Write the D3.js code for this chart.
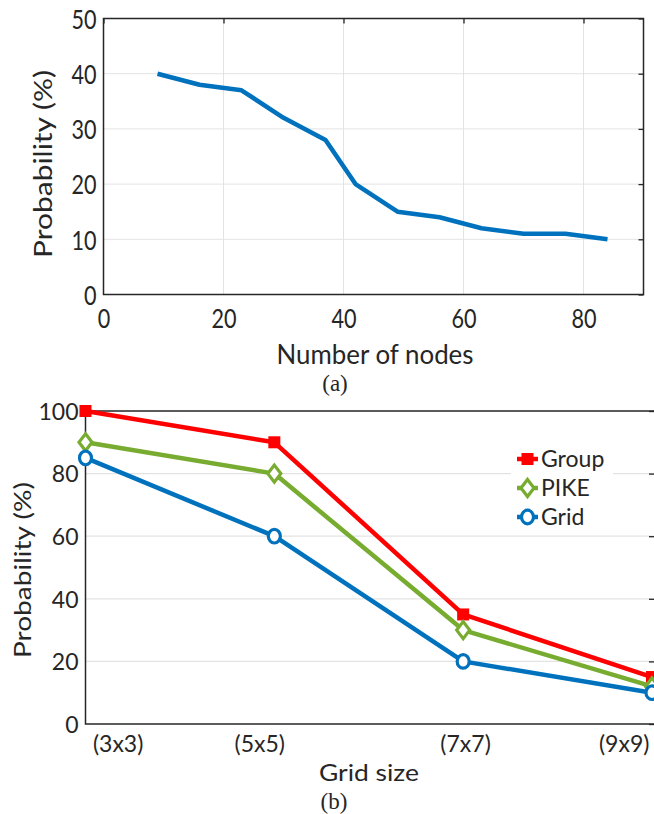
<!DOCTYPE html>
<html>
<head>
<meta charset="utf-8">
<script src="https://cdn.jsdelivr.net/npm/d3@7"></script>
<style>
  html, body { margin: 0; padding: 0; background: #fff; }
  svg { display: block; }
  text { font-family: Lato, "Open Sans", sans-serif; fill: #262626; }
</style>
</head>
<body>
<svg id="chart" width="654" height="814"></svg>
<script>
// ---------- Data: chart (a) ----------
const nodes = [9, 16, 23, 30, 37, 42, 49, 56, 63, 70, 77, 84];
const probA = [40, 38, 37, 32, 28, 20, 15, 14, 12, 11, 11, 10];
const xTicksA = [0, 20, 40, 60, 80];
const yTicksA = [0, 10, 20, 30, 40, 50];

// ---------- Data: chart (b) ----------
const gridSizes = ["(3x3)", "(5x5)", "(7x7)", "(9x9)"];
const gridIndex = [1, 2, 3, 4];
const labelPosB = [1.17, 1.92, 3.01, 3.85];
const groupVals = [100, 90, 35, 15];
const pikeVals = [90, 80, 30, 12];
const gridVals = [85, 60, 20, 10];
const seriesNames = ["Group", "PIKE", "Grid"];
const yTicksB = [0, 20, 40, 60, 80, 100];

const svg = d3.select("#chart");
const axisColor = "#262626";
const gridColor = "#e3e3e3";

// ================= Chart (a) =================
{
  const L = 103.5, R = 643.5, T = 18.5, B = 294.5;
  const x = d3.scaleLinear().domain([0, 90]).range([L, R]);
  const y = d3.scaleLinear().domain([0, 50]).range([B, T]);
  const g = svg.append("g");
  const sx = 0.8;

  // grid
  g.append("g").selectAll("line.v").data(xTicksA.filter(d => d > 0)).join("line")
    .attr("x1", d => x(d)).attr("x2", d => x(d)).attr("y1", T).attr("y2", B)
    .attr("stroke", gridColor).attr("stroke-width", 1);
  g.append("g").selectAll("line.h").data(yTicksA.filter(d => d > 0 && d < 50)).join("line")
    .attr("x1", L).attr("x2", R).attr("y1", d => y(d)).attr("y2", d => y(d))
    .attr("stroke", gridColor).attr("stroke-width", 1);

  // inner ticks top & right
  const topAx = g.append("g").attr("transform", `translate(0,${T})`)
    .call(d3.axisBottom(x).tickValues(xTicksA).tickSize(5).tickFormat(""));
  topAx.select(".domain").remove();
  topAx.selectAll("line").attr("stroke", axisColor).attr("stroke-width", 1.3);
  const rightAx = g.append("g").attr("transform", `translate(${R},0)`)
    .call(d3.axisLeft(y).tickValues(yTicksA).tickSize(5).tickFormat(""));
  rightAx.select(".domain").remove();
  rightAx.selectAll("line").attr("stroke", axisColor).attr("stroke-width", 1.3);

  // labels
  const xl = g.append("g").attr("transform", `translate(0,${B})`)
    .call(d3.axisBottom(x).tickValues(xTicksA).tickSize(0).tickPadding(14));
  xl.select(".domain").remove();
  xl.selectAll("text").attr("font-size", 27).attr("font-family", "Lato").attr("fill", axisColor)
    .attr("transform", `scale(${sx},1)`).attr("x", 0);
  const yl = g.append("g").attr("transform", `translate(${L},0)`)
    .call(d3.axisLeft(y).tickValues(yTicksA).tickSize(0).tickPadding(7));
  yl.select(".domain").remove();
  yl.selectAll("text").attr("font-size", 27).attr("font-family", "Lato").attr("fill", axisColor)
    .attr("dy", "0.36em").attr("transform", `scale(${sx},1)`).attr("x", -7 / sx);

  // box
  g.append("rect").attr("x", L).attr("y", T).attr("width", R - L).attr("height", B - T)
    .attr("fill", "none").attr("stroke", axisColor).attr("stroke-width", 1.5);

  // line
  const line = d3.line().x((d, i) => x(nodes[i])).y(d => y(d));
  g.append("path").datum(probA).attr("d", line)
    .attr("fill", "none").attr("stroke", "#0072BD").attr("stroke-width", 4.5)
    .attr("stroke-linejoin", "round");

  // titles
  g.append("text").attr("x", 375).attr("y", 364).attr("text-anchor", "middle")
    .attr("font-size", 26).attr("textLength", 197).attr("lengthAdjust", "spacingAndGlyphs")
    .text("Number of nodes");
  g.append("text").attr("transform", "translate(52,164) rotate(-90)").attr("text-anchor", "middle")
    .attr("font-size", 25).attr("textLength", 188).attr("lengthAdjust", "spacingAndGlyphs")
    .text("Probability (%)");
  g.append("text").attr("x", 335).attr("y", 391).attr("text-anchor", "middle")
    .style("font-family", "'Liberation Serif', serif").attr("font-size", 23)
    .attr("fill", "#000").text("(a)");
}

// ================= Chart (b) =================
{
  const L = 85.5, R = 655, T = 411, B = 724;
  const x = d3.scaleLinear().domain([1, 4]).range([L, 652]);
  const y = d3.scaleLinear().domain([0, 100]).range([B, T]);
  const g = svg.append("g");

  g.append("g").selectAll("line").data(yTicksB.filter(d => d > 0 && d < 100)).join("line")
    .attr("x1", L).attr("x2", R).attr("y1", d => y(d)).attr("y2", d => y(d))
    .attr("stroke", gridColor).attr("stroke-width", 1.2);

  const rightAx = g.append("g").attr("transform", `translate(${R},0)`)
    .call(d3.axisLeft(y).tickValues(yTicksB).tickSize(6).tickFormat(""));
  rightAx.select(".domain").remove();
  rightAx.selectAll("line").attr("stroke", axisColor).attr("stroke-width", 1.3);

  const yl = g.append("g").attr("transform", `translate(${L},0)`)
    .call(d3.axisLeft(y).tickValues(yTicksB).tickSize(0).tickPadding(7));
  yl.select(".domain").remove();
  yl.selectAll("text").attr("font-size", 23).attr("font-family", "Lato").attr("fill", axisColor)
    .attr("dy", "0.36em");

  const xl = g.append("g").attr("transform", `translate(0,${B})`)
    .call(d3.axisBottom(x).tickValues(labelPosB).tickSize(0).tickPadding(12)
      .tickFormat((d, i) => gridSizes[i]));
  xl.select(".domain").remove();
  xl.selectAll("text").attr("font-size", 23).attr("font-family", "Lato").attr("fill", axisColor);

  g.append("rect").attr("x", L).attr("y", T).attr("width", R - L).attr("height", B - T)
    .attr("fill", "none").attr("stroke", axisColor).attr("stroke-width", 1.5);

  const series = [
    { name: seriesNames[0], vals: groupVals, color: "#FF0000", marker: "square" },
    { name: seriesNames[1], vals: pikeVals, color: "#77AC30", marker: "diamond" },
    { name: seriesNames[2], vals: gridVals, color: "#0072BD", marker: "circle" }
  ];

  function drawMarker(sel, m, color) {
    if (m === "square") {
      sel.append("rect").attr("x", -4.5).attr("y", -4.5).attr("width", 9).attr("height", 9)
        .attr("fill", color).attr("stroke", color).attr("stroke-width", 3);
    } else if (m === "diamond") {
      sel.append("path").attr("d", "M0,-8.5L6.5,0L0,8.5L-6.5,0Z")
        .attr("fill", "#fff").attr("stroke", color).attr("stroke-width", 3.2);
    } else {
      sel.append("ellipse").attr("rx", 6).attr("ry", 6.8)
        .attr("fill", "#fff").attr("stroke", color).attr("stroke-width", 3.2);
    }
  }

  const line = d3.line().x((d, i) => x(gridIndex[i])).y(d => y(d));
  series.forEach(s => {
    g.append("path").datum(s.vals).attr("d", line)
      .attr("fill", "none").attr("stroke", s.color).attr("stroke-width", 4.5)
      .attr("stroke-linejoin", "round");
    g.selectAll(null).data(s.vals).join("g")
      .attr("transform", (d, i) => `translate(${x(gridIndex[i])},${y(d)})`)
      .each(function () { drawMarker(d3.select(this), s.marker, s.color); });
  });

  // legend
  const lg = g.append("g");
  lg.append("rect").attr("x", 511).attr("y", 440).attr("width", 102).attr("height", 92).attr("fill", "#fff");
  series.forEach((s, i) => {
    const cy = 459 + i * 29;
    lg.append("line").attr("x1", 517).attr("x2", 538).attr("y1", cy).attr("y2", cy)
      .attr("stroke", s.color).attr("stroke-width", 4.5);
    drawMarker(lg.append("g").attr("transform", `translate(527.5,${cy})`), s.marker, s.color);
    lg.append("text").attr("x", 541).attr("y", cy).attr("dy", "0.36em")
      .attr("font-size", 23).attr("fill", "#000").text(s.name);
  });

  g.append("text").attr("x", 369).attr("y", 781).attr("text-anchor", "middle")
    .attr("font-size", 24).attr("textLength", 100).attr("lengthAdjust", "spacingAndGlyphs")
    .text("Grid size");
  g.append("text").attr("transform", "translate(31,570) rotate(-90)").attr("text-anchor", "middle")
    .attr("font-size", 23).attr("textLength", 176).attr("lengthAdjust", "spacingAndGlyphs")
    .text("Probability (%)");
  g.append("text").attr("x", 334).attr("y", 809).attr("text-anchor", "middle")
    .style("font-family", "'Liberation Serif', serif").attr("font-size", 23)
    .attr("fill", "#000").text("(b)");
}
</script>
</body>
</html>
